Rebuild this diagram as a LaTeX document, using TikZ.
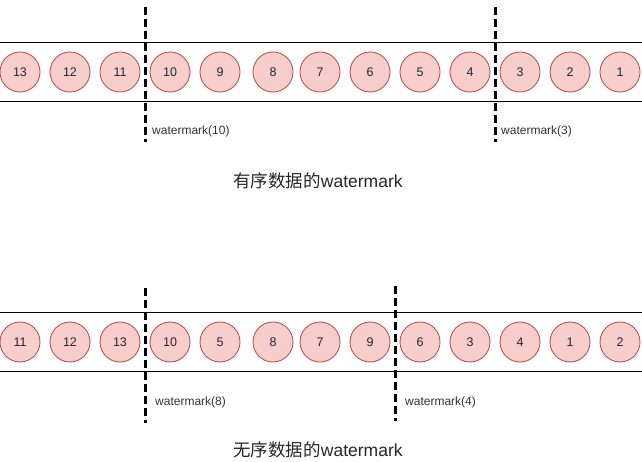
\documentclass[tikz,border=0pt]{standalone}
\usepackage{fontspec}
\setmainfont{Liberation Sans}
\newfontfamily\cjk{Noto Sans CJK SC}
\definecolor{cfill}{HTML}{F8CECC}
\definecolor{cdraw}{HTML}{B85450}
\definecolor{txt}{HTML}{333333}
\begin{document}
\begin{tikzpicture}[x=1pt,y=-1pt,
  ev/.style={circle,draw=cdraw,fill=cfill,line width=0.9pt,minimum size=40pt,inner sep=0pt,font=\fontsize{12.5}{14}\selectfont,text=black!85},
  rail/.style={line width=0.9pt,black},
  wm/.style={line width=3pt,black,dash pattern=on 8pt off 4pt},
  wmlabel/.style={anchor=west,font=\fontsize{12}{14}\selectfont,text=txt,inner sep=0pt},
  title/.style={font=\fontsize{17.5}{20}\selectfont,text=black!85}]
\useasboundingbox (0,0) rectangle (642,462);
% top rails
\coordinate (tl1) at (0,42); \coordinate (tr1) at (642,42);
\coordinate (tl2) at (0,101); \coordinate (tr2) at (642,101);
\draw[rail] (tl1) -- (tr1);
\draw[rail] (tl2) -- (tr2);
% top events
\foreach \x/\n [count=\i] in {20/13,70/12,120/11,170/10,220/9,273/8,320/7,370/6,420/5,470/4,520/3,570/2,620/1}
  \node[ev] (t\i) at (\x,72) {\n};
% top watermarks
\coordinate (wa1) at (145,7); \coordinate (wa2) at (145,142);
\coordinate (wb1) at (495,7); \coordinate (wb2) at (495,142);
\draw[wm] (wa1) -- (wa2);
\draw[wm] (wb1) -- (wb2);
\node[wmlabel] (la) at (152,131) {watermark(10)};
\node[wmlabel] (lb) at (501,131) {watermark(3)};
\node[title] (title1) at (318,181) {{\cjk 有序数据的}watermark};
% bottom rails
\coordinate (bl1) at (0,312); \coordinate (br1) at (642,312);
\coordinate (bl2) at (0,371); \coordinate (br2) at (642,371);
\draw[rail] (bl1) -- (br1);
\draw[rail] (bl2) -- (br2);
\foreach \x/\n [count=\i] in {20/11,70/12,120/13,170/10,220/5,273/8,320/7,370/9,420/6,470/3,520/4,570/1,620/2}
  \node[ev] (b\i) at (\x,342) {\n};
\coordinate (wc1) at (145,288); \coordinate (wc2) at (145,423);
\coordinate (wd1) at (395,286); \coordinate (wd2) at (395,421);
\draw[wm] (wc1) -- (wc2);
\draw[wm] (wd1) -- (wd2);
\node[wmlabel] (lc) at (155,402) {watermark(8)};
\node[wmlabel] (ld) at (405,402) {watermark(4)};
\node[title] (title2) at (318,450) {{\cjk 无序数据的}watermark};
\end{tikzpicture}
\end{document}
